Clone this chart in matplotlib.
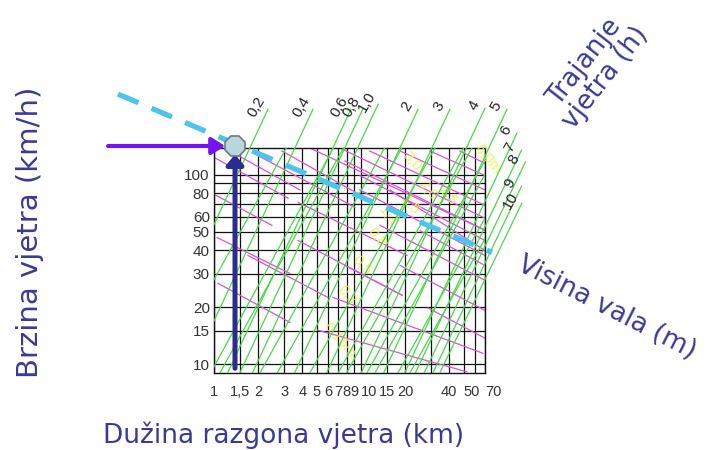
import matplotlib.pyplot as plt
from matplotlib.transforms import Bbox, TransformedBbox

# grid of the nomogram: fetch (km) on x, wind speed (km/h) on y
FETCH_GRID = [1, 1.5, 2, 3, 4, 5, 6, 7, 8, 9, 10, 15, 20, 30, 40, 50, 60, 70]
FETCH_TICKS = [1, 1.5, 2, 3, 4, 5, 6, 7, 8, 9, 10, 15, 20, 40, 50, 70]
FETCH_LABELS = ['1', '1,5', '2', '3', '4', '5', '6', '7', '8', '9', '10',
                '15', '20', '40', '50', '70']
SPEED_GRID = [10, 15, 20, 30, 40, 50, 60, 70, 80, 90, 100]
SPEED_TICKS = [10, 15, 20, 30, 40, 50, 60, 80, 100]

# wind duration lines (h): upper end (fetch, speed) and lower end fetch at grid bottom
DURATION_LABELS = ['0,2', '0,4', '0,6', '0,8', '1,0', '2', '3', '4', '5',
                   '6', '7', '8', '9', '10']
DURATION_TOP_FETCH = [2.33, 4.72, 8.56, 10.3, 13.1, 24.5, 40.4, 70, 98.8,
                      115.5, 124, 132, 124, 125]
DURATION_TOP_SPEED = [222, 222, 222, 222, 236, 222, 222, 225, 222,
                      166, 135, 117, 87, 71]
DURATION_BOTTOM_FETCH = [0.337, 0.683, 1.24, 1.50, 1.83, 3.54, 5.85, 10.06, 14.3,
                         19.9, 23.5, 27.0, 31.0, 34.5]
# unlabelled duration lines, fetch where they meet the grid bottom / top
EXTRA_BOTTOM_FETCH = [0.45, 0.95, 1.1, 2.06, 2.7, 4.5, 7.0, 8.0, 11.0, 12.5, 17.9, 21.6]
EXTRA_TOP_FETCH = [3.1, 6.5, 7.6, 14.5, 19.0, 32, 50, 57, 78, 88, 130, 155]
SPEED_BOTTOM = 9.0
SPEED_TOP = 138.6

# wave height lines (m): segments (fetch0, speed0, fetch1, speed1)
WAVE_SEGMENTS = [
    (1.016, 122.8, 3.19, 75.2),
    (1.285, 133.6, 3.85, 83.2),
    (1.016, 78.4, 2.48, 54.1),
    (1.05, 46.6, 3.29, 30.1),
    (1.065, 26.7, 3.29, 16.6),
    (1.70, 37.5, 5.97, 22.5),
    (1.90, 128.9, 9.10, 67.4),
    (2.90, 133.6, 11.5, 73.3),
    (3.73, 71.6, 20.6, 37.5),
    (3.73, 45.0, 19.1, 23.1),
    (5.10, 15.1, 52.7, 9.1),
    (6.45, 22.5, 67.8, 11.4),
    (7.79, 33.2, 19.1, 23.1),
    (28.6, 19.8, 70, 13.7),
    (4.5, 138.6, 70, 51.0),
    (7.2, 138.6, 70, 59.0),
    (7.79, 118.4, 70, 51.0),
    (9.84, 99.2, 70, 45.0),
    (11.5, 133.6, 70, 69.0),
    (15.8, 83.2, 70, 39.8),
    (18.5, 133.6, 70, 83.2),
    (25.3, 50.6, 70, 33.2),
    (29.5, 133.6, 70, 99.2),
    (47.3, 133.6, 70, 115.0),
    (9.84, 83.2, 70, 37.5),
    (13.5, 54.1, 70, 27.7),
    (18.5, 33.2, 70, 19.2),
]
WAVE_LABELS = ['0,15m', '0,3', '0,5', '0,8', '1,2', '1,5', '2,0', '2,5', '3,0', '6,0m']
WAVE_LABEL_FETCH = [7.21, 8.04, 10.2, 12.9, 15.3, 21.6, 28.6, 39.2, 22.3, 73.3]
WAVE_LABEL_SPEED = [13.4, 23.1, 33.2, 46.6, 61.1, 69.0, 83.2, 78.4, 118.4, 121.3]

# worked example: wind speed, fetch and the reading line
POINT_FETCH = 1.39
POINT_SPEED = 142
ARROW_START_FETCH = 0.19
ARROW_START_SPEED = 9.5
READ_LINE_FETCH = [0.222, 78.1]
READ_LINE_SPEED = [267, 38.9]

NAVY = '#3a3a95'
GREEN = '#48d848'
MAGENTA = '#dd4fdd'

fig = plt.figure(figsize=(7.13, 4.5), dpi=100)
ax = fig.add_axes([214 / 713, 1 - 373 / 450, 271 / 713, 225 / 450])
ax.set_xscale('log')
ax.set_yscale('log')
ax.set_xlim(1, 70)
ax.set_ylim(8.97, SPEED_TOP)

ax.vlines(FETCH_GRID, 8.97, SPEED_TOP, color='#111111', lw=0.9, zorder=1)
ax.hlines(SPEED_GRID, 1, 70, color='#111111', lw=0.9, zorder=1)
for sp in ax.spines.values():
    sp.set_color('#111111')
    sp.set_linewidth(1.0)

ax.minorticks_off()
ax.set_xticks(FETCH_TICKS, FETCH_LABELS)
ax.set_yticks(SPEED_TICKS, [str(v) for v in SPEED_TICKS])
ax.tick_params(length=0, colors='#333333')
ax.tick_params(axis='x', pad=9, labelsize=10.5)
ax.tick_params(axis='y', pad=3, labelsize=11)
for lab in ax.get_xticklabels() + ax.get_yticklabels():
    lab.set_fontfamily('Liberation Sans')
# crammed fetch labels: the last ones start at their grid line
for lab in ax.get_xticklabels():
    if lab.get_text() in ('10', '50', '70'):
        lab.set_horizontalalignment('left')

# wave height lines
for f0, u0, f1, u1 in WAVE_SEGMENTS:
    ax.plot([f0, f1], [u0, u1], color=MAGENTA, lw=0.9, zorder=2)
for lab, f, u in zip(WAVE_LABELS, WAVE_LABEL_FETCH, WAVE_LABEL_SPEED):
    ax.text(f, u, lab, rotation=-50, ha='center', va='center', fontsize=11,
            color='#f0f050', alpha=0.9, family='Liberation Sans', zorder=3)

# duration lines: may leave the grid upwards and to the right, not left/down
green_box = TransformedBbox(Bbox([[0, 0], [2, 2]]), ax.transAxes)
for lab, ft, ut, fb in zip(DURATION_LABELS, DURATION_TOP_FETCH,
                           DURATION_TOP_SPEED, DURATION_BOTTOM_FETCH):
    ln, = ax.plot([fb, ft], [SPEED_BOTTOM, ut], color=GREEN, lw=0.9, zorder=3)
    ln.set_clip_path(None)
    ln.set_clip_box(green_box)
    ax.annotate(lab, (ft, ut), xytext=(-8, 2), textcoords='offset points',
                rotation=60, ha='center', va='center', fontsize=11,
                color='#222222', family='Liberation Sans', annotation_clip=False)
for fb, ft in zip(EXTRA_BOTTOM_FETCH, EXTRA_TOP_FETCH):
    ax.plot([fb, ft], [SPEED_BOTTOM, SPEED_TOP], color=GREEN, lw=0.9, zorder=3)

# reading line and arrows
ax.plot(READ_LINE_FETCH, READ_LINE_SPEED, color='#4cc4ee', lw=3.8,
        dashes=(4.2, 2.7), clip_on=False, zorder=5)
ax.annotate('', xy=(POINT_FETCH, POINT_SPEED),
            xytext=(ARROW_START_FETCH, POINT_SPEED),
            arrowprops=dict(arrowstyle='-|>,head_length=0.8,head_width=0.5',
                            color='#7414ee', lw=3, shrinkA=0, shrinkB=7,
                            mutation_scale=10),
            annotation_clip=False, zorder=6)
ax.annotate('', xy=(POINT_FETCH, POINT_SPEED),
            xytext=(POINT_FETCH, ARROW_START_SPEED),
            arrowprops=dict(arrowstyle='-|>,head_length=0.6,head_width=0.5',
                            color='#2b2d8e', lw=3.6, shrinkA=0, shrinkB=6,
                            mutation_scale=10),
            annotation_clip=False, zorder=6)
ax.plot([POINT_FETCH], [POINT_SPEED], marker='8', ms=16, mfc='#b9d7dc',
        mec='#6b7b7b', mew=1.2, clip_on=False, zorder=8)

# titles
fig.text(30 / 713, 1 - 232 / 450, 'Brzina vjetra (km/h)', rotation=90,
         ha='center', va='center', fontsize=21, color=NAVY)
fig.text(284 / 713, 1 - 435 / 450, 'Dužina razgona vjetra (km)',
         ha='center', va='center', fontsize=19, color=NAVY)
fig.text(607 / 713, 1 - 308 / 450, 'Visina vala (m)', rotation=-27,
         ha='center', va='center', fontsize=19, color=NAVY)
fig.text(595 / 713, 1 - 70 / 450, 'Trajanje\nvjetra (h)', rotation=52,
         ha='center', va='center', multialignment='center', fontsize=19,
         color=NAVY, linespacing=1.0)

fig.savefig('out.png', dpi=100)
